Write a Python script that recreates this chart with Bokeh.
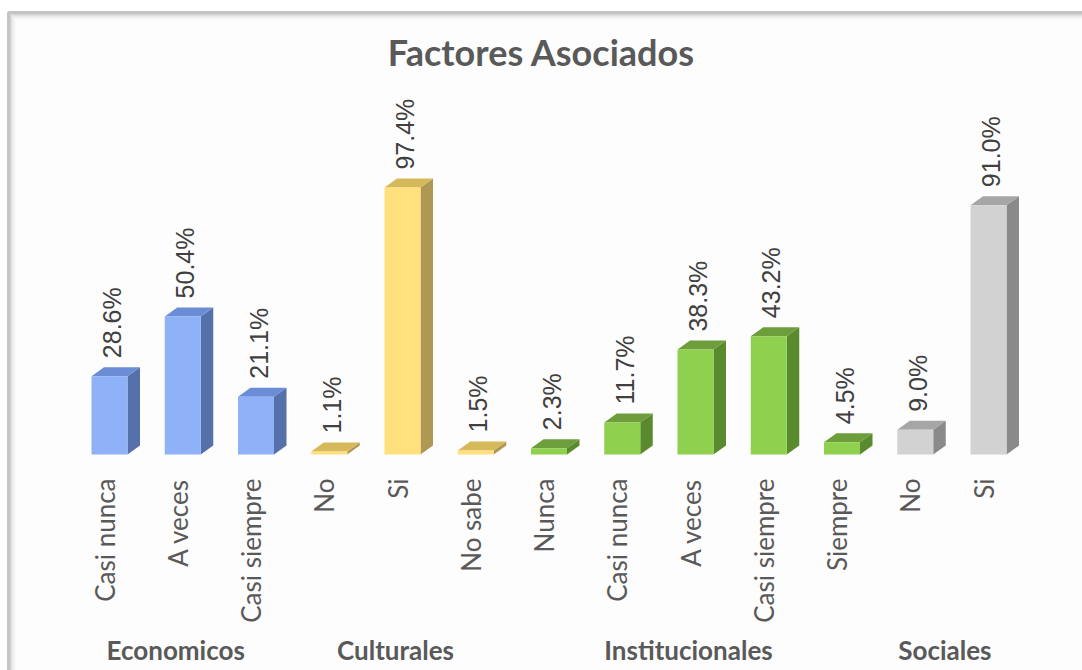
import math
from bokeh.plotting import figure
from bokeh.models import Range1d, BoxAnnotation, ColumnDataSource
from bokeh.core.properties import value
from bokeh.embed import file_html
from bokeh.resources import INLINE

# ---- data ----
groups = ["Economicos", "Culturales", "Institucionales", "Sociales"]
group_cats = [
    ["Casi nunca", "A veces", "Casi siempre"],
    ["No", "Si", "No sabe"],
    ["Nunca", "Casi nunca", "A veces", "Casi siempre", "Siempre"],
    ["No", "Si"],
]
group_vals = [
    [28.6, 50.4, 21.1],
    [1.1, 97.4, 1.5],
    [2.3, 11.7, 38.3, 43.2, 4.5],
    [9.0, 91.0],
]
front_colors = ["#8EB1F8", "#FFE07C", "#8FD04F", "#D3D2D3"]
top_colors = ["#6A8DD6", "#D6B95B", "#6E9D3B", "#A6A6A6"]
side_colors = ["#5570AA", "#AF9851", "#5A8A2E", "#8A8A8A"]

# ---- layout constants (pixels) ----
W, H = 1082, 670
X0, STEP = 109.0, 73.25      # pixel x of first bar centre, spacing
Y0, PPU = 454.0, 2.74        # pixel y of baseline, pixels per percent
BAR_W_PX, DX_PX, DY_PX = 36.0, 12.5, 9.0

ux = 1.0 / STEP
uy = 1.0 / PPU

idx, cats, vals, fcol, tcol, scol = [], [], [], [], [], []
gcenters = []
k = 0
for g, (cl, vl) in enumerate(zip(group_cats, group_vals)):
    start = k
    for c, v in zip(cl, vl):
        idx.append(k)
        cats.append(c)
        vals.append(v)
        fcol.append(front_colors[g])
        tcol.append(top_colors[g])
        scol.append(side_colors[g])
        k += 1
    gcenters.append((start + k - 1) / 2.0)

bw = BAR_W_PX * ux
dx = DX_PX * ux
dy = DY_PX * uy

side_xs, side_ys, top_xs, top_ys = [], [], [], []
for x, v in zip(idx, vals):
    r = x + bw / 2
    l = x - bw / 2
    side_xs.append([r, r + dx, r + dx, r])
    side_ys.append([0, dy, v + dy, v])
    top_xs.append([l, r, r + dx, l + dx])
    top_ys.append([v, v, v + dy, v + dy])

src = ColumnDataSource(dict(
    x=idx, top=vals, cat=cats, f=fcol, t=tcol, s=scol,
    sx=side_xs, sy=side_ys, tx=top_xs, ty=top_ys,
    lab=[f"{v:.1f}%" for v in vals],
    lx=[x + 2.5 * ux for x in idx],
    ly=[v + 18 * uy for v in vals],
    cx=[x - 5 * ux for x in idx],
    cy=[(Y0 - 478) * uy for _ in idx],
))

p = figure(width=W, height=H, output_backend="svg", toolbar_location=None,
           x_range=Range1d(-X0 * ux, (W - X0) * ux),
           y_range=Range1d((Y0 - H) * uy, Y0 * uy),
           min_border=0, background_fill_color="white",
           border_fill_color="white")
p.axis.visible = False
p.grid.visible = False
p.outline_line_color = None

# frame with inner shadow
fx = (8 - X0) * ux
fy = (Y0 - 12) * uy
p.add_layout(BoxAnnotation(left=fx, top=fy, right=30, bottom=-200,
                           fill_color="#FDFDFD", fill_alpha=1.0,
                           line_color="#3F3F3F", line_width=3,
                           level="underlay"))
shade = ["#7A7A7A", "#A0A0A0", "#C0C0C0", "#D8D8D8", "#E8E8E8", "#F3F3F3"]
for i, c in enumerate(shade):
    off = i + 2
    p.add_layout(BoxAnnotation(left=fx + off * ux, top=fy - off * uy,
                               right=30, bottom=-200, fill_alpha=0,
                               line_color=c, line_width=1,
                               level="underlay"))

# bars
p.patches("sx", "sy", source=src, fill_color="s", line_color=None)
p.patches("tx", "ty", source=src, fill_color="t", line_color=None)
p.vbar(x="x", width=bw, top="top", bottom=0, source=src,
       fill_color="f", line_color=None)

# value labels
p.text(x="lx", y="ly", text="lab", source=src, angle=math.pi / 2,
       text_align="left", text_baseline="middle",
       text_font=value("Liberation Sans"), text_font_size="25px",
       text_color="#404040")

# category labels
p.text(x="cx", y="cy", text="cat", source=src, angle=math.pi / 2,
       text_align="right", text_baseline="middle",
       text_font=value("Lato"), text_font_size="26px",
       text_color="#595959")

# group labels
gsrc = ColumnDataSource(dict(
    x=[c - 7 * ux for c in gcenters],
    y=[(Y0 - 649) * uy for _ in gcenters],
    t=groups))
p.text(x="x", y="y", text="t", source=gsrc, text_align="center",
       text_baseline="middle", text_font=value("Lato"),
       text_font_style="bold",
       text_font_size="26px", text_color="#595959")

# title
p.text(x=[(541 - X0) * ux], y=[(Y0 - 51) * uy], text=["Factores Asociados"],
       text_align="center", text_baseline="middle",
       text_font=value("Lato"), text_font_style="bold",
       text_font_size="36px", text_color="#595959")

open("out.html", "w").write(file_html(p, INLINE))
